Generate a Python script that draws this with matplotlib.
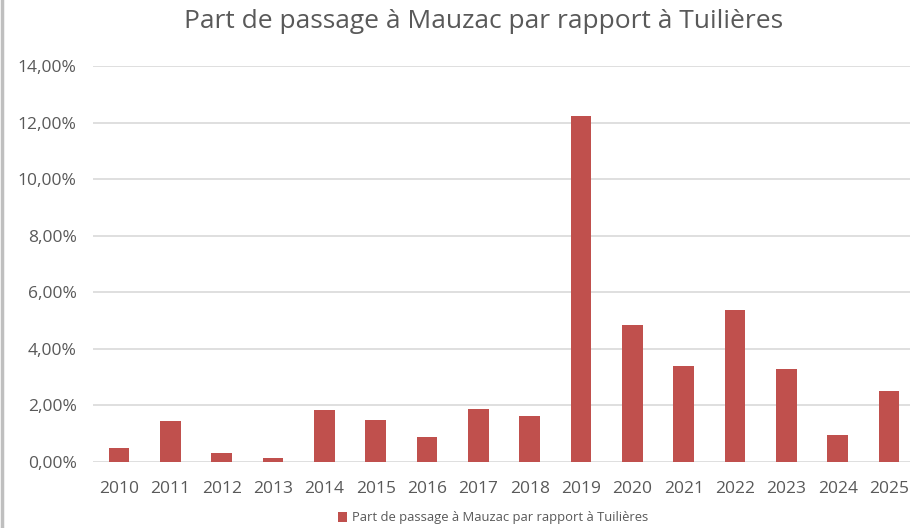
import matplotlib
matplotlib.use("Agg")
import matplotlib.pyplot as plt
from matplotlib.lines import Line2D
from matplotlib.ticker import FuncFormatter

# data
years = ["2010", "2011", "2012", "2013", "2014", "2015", "2016", "2017",
         "2018", "2019", "2020", "2021", "2022", "2023", "2024", "2025"]
part_mauzac = [0.49, 1.45, 0.32, 0.14, 1.84, 1.48, 0.88, 1.87,
               1.62, 12.23, 4.84, 3.39, 5.37, 3.29, 0.95, 2.51]
yticks = [0, 2, 4, 6, 8, 10, 12, 14]

title = "Part de passage à Mauzac par rapport à Tuilières"
series_name = "Part de passage à Mauzac par rapport à Tuilières"

txt_col = "#595959"
bar_col = "#C0504D"
grid_col = "#D9D9D9"

plt.rcParams['font.family'] = ['Open Sans', 'DejaVu Sans']

fig = plt.figure(figsize=(9.10, 5.28), dpi=100)
ax = fig.add_axes([93.3 / 910, 1 - 462 / 528, (914.7 - 93.3) / 910, (462 - 66) / 528])

x = list(range(len(years)))
ax.bar(x, part_mauzac, width=0.4, color=bar_col, zorder=3, label=series_name)

ax.set_xlim(-0.5, len(years) - 0.5)
ax.set_ylim(0, 14)
ax.set_yticks(yticks)
ax.yaxis.set_major_formatter(FuncFormatter(lambda v, p: f"{v:.2f}".replace(".", ",") + "%"))
ax.set_xticks(x)
ax.set_xticklabels(years)
ax.grid(axis="y", color=grid_col, linewidth=1.2, zorder=0)
ax.tick_params(axis="both", length=0, colors=txt_col, labelsize=12.5)
ax.tick_params(axis="y", pad=12)
ax.tick_params(axis="x", pad=14)
for s in ax.spines.values():
    s.set_visible(False)

fig.text(484 / 910, 1 - 21 / 528, title, ha="center", va="center",
         fontsize=19, color=txt_col)

fig.legend(loc="center", bbox_to_anchor=(493 / 910, 1 - 518 / 528), frameon=False,
           fontsize=9.4, labelcolor=txt_col, handlelength=0.7, handleheight=0.7,
           handletextpad=0.4)

# grey frame line on the left edge
fig.add_artist(Line2D([0.002, 0.002], [0, 1], color="#BFBFBF", linewidth=2.5,
                      transform=fig.transFigure))

fig.savefig("out.png", dpi=100)
